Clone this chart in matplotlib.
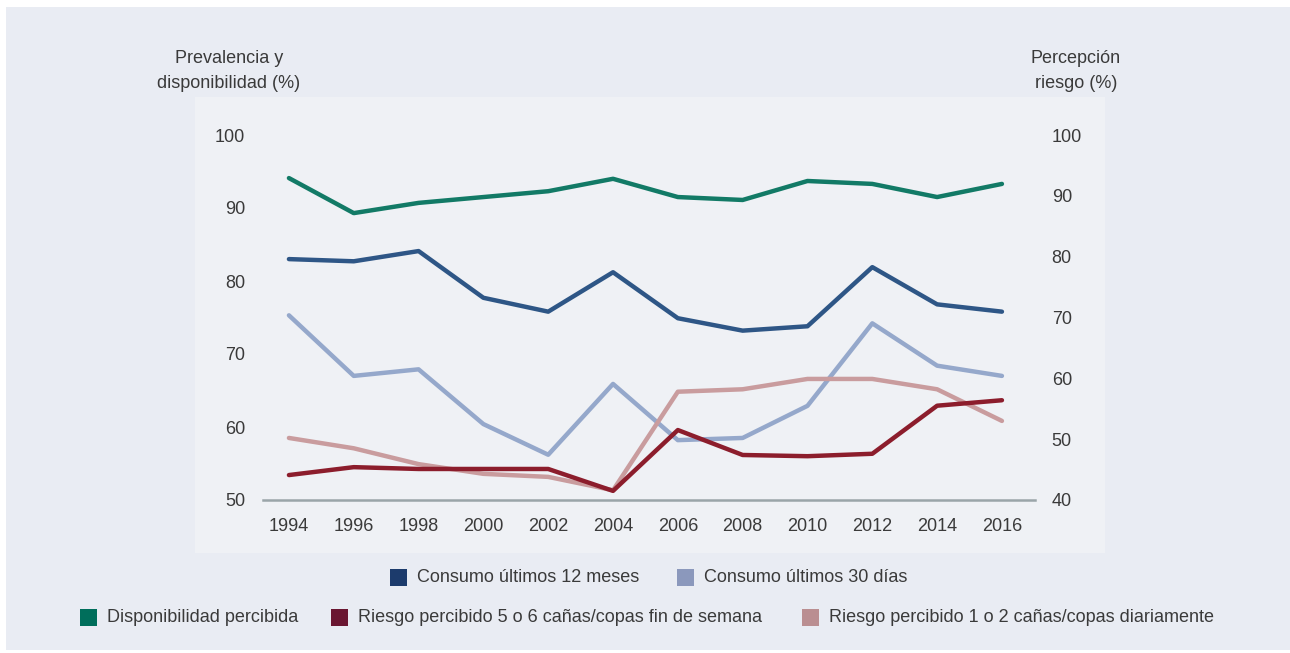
import matplotlib
matplotlib.use("Agg")
import matplotlib.pyplot as plt
from matplotlib.patches import Rectangle

years = [1994, 1996, 1998, 2000, 2002, 2004, 2006, 2008, 2010, 2012, 2014, 2016]

# eje izquierdo (%)
disponibilidad = [94.1, 89.3, 90.7, 91.5, 92.3, 94.0, 91.5, 91.1, 93.7, 93.3, 91.5, 93.3]
consumo_12m = [83.0, 82.7, 84.1, 77.7, 75.8, 81.2, 74.9, 73.2, 73.8, 81.9, 76.8, 75.8]
consumo_30d = [75.3, 67.0, 67.9, 60.4, 56.2, 65.9, 58.2, 58.5, 62.9, 74.2, 68.4, 67.0]

# eje derecho (%)
riesgo_finde = [44.1, 45.4, 45.1, 45.1, 45.1, 41.5, 51.5, 47.4, 47.2, 47.6, 55.5, 56.4]
riesgo_diario = [50.2, 48.5, 45.9, 44.3, 43.8, 41.6, 57.8, 58.2, 59.9, 59.9, 58.2, 53.0]

left_ticks = [50, 60, 70, 80, 90, 100]
right_ticks = [40, 50, 60, 70, 80, 90, 100]

W, H = 1290, 653
txt = '#3a3a3a'
fs = 13
plt.rcParams['font.family'] = ['Liberation Sans', 'DejaVu Sans']

fig = plt.figure(figsize=(W / 100, H / 100), dpi=100)
fig.patch.set_facecolor('white')

def box(x0, y0, x1, y1, color):
    # rectangulo en pixeles (origen arriba-izquierda)
    fig.patches.append(Rectangle((x0 / W, 1 - y1 / H), (x1 - x0) / W, (y1 - y0) / H,
                                 transform=fig.transFigure, facecolor=color,
                                 edgecolor='none', zorder=-10))

box(6, 7, W, H - 3, '#e9ecf3')
box(195, 97, 1105, 553, '#eff1f5')

ax = fig.add_axes([263 / W, 1 - 500 / H, 772 / W, 365 / H])
ax.set_facecolor('none')
ax2 = ax.twinx()

lw = 3.2
ax.plot(years, disponibilidad, color='#127a66', lw=lw, solid_capstyle='round', zorder=5)
ax.plot(years, consumo_12m, color='#2e5686', lw=lw, solid_capstyle='round', zorder=5)
ax.plot(years, consumo_30d, color='#95a8cb', lw=lw, solid_capstyle='round', zorder=4)
ax2.plot(years, riesgo_diario, color='#c99c9e', lw=lw, solid_capstyle='round')
ax2.plot(years, riesgo_finde, color='#8c1d2c', lw=lw, solid_capstyle='round')

ax.set_xlim(1993.2, 2017.02)
ax.set_ylim(50, 100)
ax2.set_ylim(40, 100)
ax.axhline(50, color='#9aa5a9', lw=1.8, zorder=1, clip_on=False)

ax.set_xticks(years)
ax.set_yticks(left_ticks)
ax2.set_yticks(right_ticks)
for a in (ax, ax2):
    for s in a.spines.values():
        s.set_visible(False)
    a.tick_params(length=0, labelsize=fs, labelcolor=txt)
ax.tick_params(axis='x', pad=13)
ax.tick_params(axis='y', pad=13)
ax2.tick_params(axis='y', pad=12)

fig.text(229 / W, 1 - 71 / H, 'Prevalencia y\ndisponibilidad (%)', ha='center', va='center',
         fontsize=fs, color=txt, linespacing=1.55)
fig.text(1076 / W, 1 - 71 / H, 'Percepción\nriesgo (%)', ha='center', va='center',
         fontsize=fs, color=txt, linespacing=1.55)

legend_items = [
    (390, 578, '#1c3b6c', 'Consumo últimos 12 meses'),
    (677, 578, '#8b98bc', 'Consumo últimos 30 días'),
    (80, 618, '#006e5b', 'Disponibilidad percibida'),
    (331, 618, '#6a1631', 'Riesgo percibido 5 o 6 cañas/copas fin de semana'),
    (802, 618, '#ba8e91', 'Riesgo percibido 1 o 2 cañas/copas diariamente'),
]
for x0, yc, col, label in legend_items:
    fig.patches.append(Rectangle((x0 / W, 1 - (yc + 8) / H), 17 / W, 17 / H,
                                 transform=fig.transFigure, facecolor=col, edgecolor='none'))
    fig.text((x0 + 27) / W, 1 - yc / H, label, ha='left', va='center',
             fontsize=fs, color=txt)

fig.savefig('out.png', dpi=100, facecolor=fig.get_facecolor())
